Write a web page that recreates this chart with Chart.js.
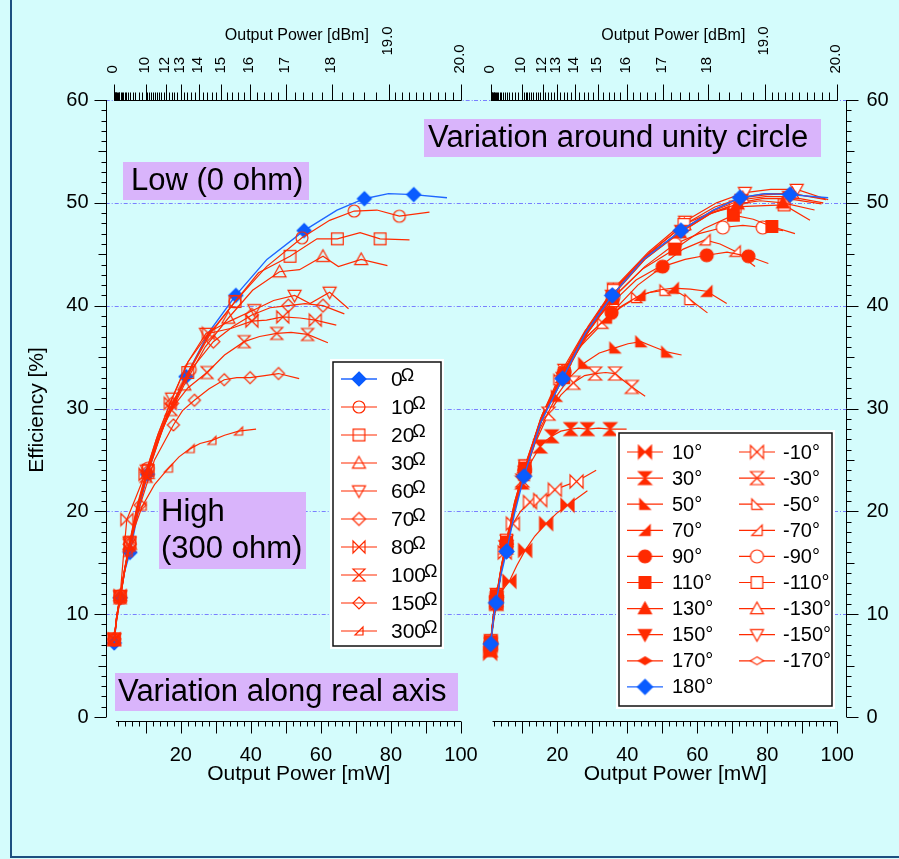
<!DOCTYPE html>
<html>
<head>
<meta charset="utf-8">
<script src="https://cdn.jsdelivr.net/npm/chart.js@4.4.1/dist/chart.umd.min.js"></script>
<style>
  html, body { margin: 0; padding: 0; background: #d4fcfc; overflow: hidden; }
  #frame { position: absolute; left: 10px; top: -10px; width: 899px; height: 868px;
           border: 2px solid #1d4f80; box-sizing: border-box; }
  canvas { position: absolute; left: 0; top: 0; }
</style>
</head>
<body>
<div id="frame"></div>
<canvas id="realAxis" width="899" height="859"></canvas>
<canvas id="unityCircle" width="899" height="859"></canvas>
<script>
// ---- axis ticks ----
const effTicks = [0, 10, 20, 30, 40, 50, 60];
const mwTicks = [20, 40, 60, 80, 100];
const dbmTicks = [0, 10, 12, 13, 14, 15, 16, 17, 18, 19, 20];
const dbmLabels = ['0', '10', '12', '13', '14', '15', '16', '17', '18', '19.0', '20.0'];

// ---- load resistance sweep (left panel) ----
const ohmLabels = ['0', '10', '20', '30', '60', '70', '80', '100', '150', '300'];

const powR0 = [1.0, 1.7, 2.7, 4.0, 5.5, 7.8, 10.5, 15.2, 21.5, 28.0, 35.7, 44.6, 55.2, 64.6, 72.4, 79.3, 86.5, 96.0];
const effR0 = [7.2, 9.6, 11.6, 14.2, 16.0, 19.9, 23.6, 28.6, 33.1, 37.4, 41.0, 44.5, 47.3, 49.3, 50.4, 50.9, 50.8, 50.5];
const powR10 = [1.0, 1.7, 2.7, 4.0, 5.5, 7.9, 10.7, 16.0, 22.7, 28.5, 35.5, 44.5, 54.6, 62.5, 69.5, 76.0, 82.4, 91.0];
const effR10 = [7.5, 9.8, 11.8, 14.4, 16.9, 20.6, 24.2, 29.0, 33.8, 37.3, 40.4, 43.8, 46.6, 48.3, 49.2, 49.3, 48.7, 49.1];
const powR20 = [1.0, 1.7, 2.7, 4.0, 5.5, 7.8, 10.7, 15.5, 22.0, 28.0, 35.5, 42.2, 51.2, 58.9, 64.7, 71.2, 76.9, 85.3];
const effR20 = [7.6, 9.7, 11.7, 14.3, 17.0, 20.4, 24.0, 28.8, 33.5, 37.2, 40.4, 43.2, 44.8, 46.5, 46.5, 47.1, 46.5, 46.4];
const powR30 = [1.0, 1.7, 2.7, 4.0, 5.5, 7.7, 10.6, 15.0, 21.0, 27.0, 33.6, 40.5, 48.2, 53.9, 60.6, 65.0, 71.5, 79.0];
const effR30 = [7.5, 9.7, 11.8, 14.4, 16.8, 20.3, 23.7, 28.2, 32.3, 36.0, 38.8, 41.5, 43.3, 43.5, 44.8, 43.8, 44.5, 43.9];
const powR60 = [1.0, 1.7, 2.7, 4.0, 5.4, 7.5, 10.3, 13.5, 17.5, 22.0, 27.2, 34.0, 41.0, 46.5, 52.5, 56.9, 62.5, 67.9];
const effR60 = [7.6, 9.8, 11.8, 14.5, 17.0, 20.5, 24.0, 27.5, 31.0, 34.5, 37.3, 38.5, 39.6, 40.5, 41.0, 40.2, 41.3, 39.7];
const powR70 = [1.0, 1.7, 2.7, 4.0, 5.4, 7.5, 10.3, 13.5, 17.5, 23.0, 29.3, 35.0, 40.3, 45.5, 50.7, 55.5, 60.6, 66.7];
const effR70 = [7.6, 9.7, 11.6, 14.3, 16.8, 20.3, 23.8, 27.2, 30.5, 33.8, 36.5, 38.0, 39.1, 39.8, 40.0, 40.2, 40.0, 39.2];
const powR80 = [1.0, 1.7, 2.7, 3.6, 4.6, 7.0, 9.8, 13.0, 17.0, 22.0, 27.9, 34.5, 40.3, 44.5, 49.1, 54.0, 58.4, 64.4];
const effR80 = [7.6, 9.8, 11.8, 15.5, 19.2, 21.2, 23.6, 27.0, 30.5, 34.5, 37.3, 37.8, 38.5, 38.6, 38.9, 38.8, 38.6, 38.1];
const powR100 = [1.0, 1.7, 2.7, 4.0, 5.3, 7.4, 10.1, 13.3, 17.2, 22.0, 27.5, 32.5, 38.1, 42.5, 47.4, 51.5, 56.2, 62.0];
const effR100 = [7.5, 9.6, 11.6, 14.2, 16.7, 20.0, 23.4, 26.8, 29.9, 32.0, 33.5, 35.2, 36.5, 37.0, 37.3, 37.4, 37.2, 36.4];
const powR150 = [1.0, 1.7, 2.7, 3.9, 5.2, 6.8, 8.4, 12.5, 17.9, 20.5, 23.9, 28.0, 32.4, 36.0, 39.8, 44.0, 47.9, 53.8];
const effR150 = [7.5, 9.5, 11.5, 14.0, 16.3, 18.6, 20.6, 25.0, 28.4, 29.8, 30.8, 31.9, 32.8, 33.0, 33.0, 33.2, 33.4, 32.9];
const powR300 = [1.0, 1.7, 2.7, 3.8, 5.0, 6.8, 9.0, 12.5, 16.5, 19.5, 22.7, 25.5, 28.9, 32.5, 36.5, 41.5];
const effR300 = [7.5, 9.4, 11.4, 13.8, 16.0, 18.4, 20.5, 22.6, 24.2, 25.3, 26.1, 26.6, 26.9, 27.4, 27.8, 28.0];

// ---- phase sweep around the unity circle (right panel) ----
const phaseLabels = ['10°', '30°', '50°', '70°', '90°', '110°', '130°', '150°', '170°', '180°',
                     '-10°', '-30°', '-50°', '-70°', '-90°', '-110°', '-130°', '-150°', '-170°'];

const powP10 = [0.8, 1.4, 2.5, 4.0, 6.3, 8.4, 10.8, 13.6, 16.8, 19.8, 22.9, 28.6];
const effP10 = [6.2, 8.7, 11.1, 12.2, 13.2, 14.7, 16.2, 17.6, 18.8, 19.8, 20.6, 22.0];
const powP30 = [1.0, 1.6, 2.6, 3.9, 5.4, 7.5, 9.9, 12.5, 15.1, 16.8, 18.4, 21.0, 23.8, 26.0, 28.6, 31.8, 35.1, 39.8];
const effP30 = [6.5, 8.8, 11.0, 14.0, 16.5, 20.0, 22.8, 24.8, 26.3, 26.9, 27.3, 27.8, 28.0, 28.1, 28.0, 28.1, 28.0, 28.0];
const powP50 = [1.0, 1.7, 2.7, 4.0, 5.5, 7.8, 10.5, 15.0, 19.8, 23.5, 27.6, 32.0, 36.5, 40.2, 43.9, 47.5, 51.3, 55.5];
const effP50 = [7.0, 9.4, 11.5, 14.2, 16.6, 20.2, 23.5, 28.0, 31.2, 33.0, 34.4, 35.4, 35.9, 36.3, 36.5, 36.0, 35.5, 35.2];
const powP70 = [1.0, 1.7, 2.7, 4.0, 5.5, 7.8, 10.6, 15.0, 21.0, 27.0, 34.0, 38.5, 43.6, 48.5, 53.1, 58.0, 62.7, 68.4];
const effP70 = [7.0, 9.4, 11.5, 14.2, 16.7, 20.3, 23.7, 28.5, 33.0, 36.5, 38.8, 40.0, 41.0, 41.5, 41.7, 41.6, 41.4, 40.2];
const powP90 = [1.0, 1.7, 2.7, 4.0, 5.5, 7.8, 10.7, 16.0, 22.0, 28.5, 35.5, 43.0, 50.1, 56.5, 62.7, 68.5, 74.6, 80.3];
const effP90 = [7.1, 9.5, 11.6, 14.3, 16.8, 20.5, 24.0, 29.3, 33.5, 37.0, 39.3, 42.0, 43.8, 44.5, 44.9, 45.2, 44.8, 44.1];
const powP110 = [1.0, 1.7, 2.7, 4.0, 5.5, 7.8, 10.7, 15.8, 21.8, 28.5, 35.7, 44.5, 53.6, 62.0, 70.3, 76.0, 81.3, 87.9];
const effP110 = [7.3, 9.7, 11.8, 14.5, 17.0, 20.7, 24.2, 29.2, 33.0, 37.3, 40.7, 43.6, 45.5, 47.5, 48.8, 48.4, 47.7, 47.0];
const powP130 = [1.0, 1.7, 2.7, 4.0, 5.5, 7.8, 10.7, 15.6, 21.6, 28.3, 35.6, 45.0, 55.0, 63.5, 71.5, 78.0, 84.5, 93.5];
const effP130 = [7.2, 9.6, 11.7, 14.4, 16.8, 20.5, 24.0, 28.9, 33.0, 37.2, 40.9, 44.5, 47.1, 48.9, 49.9, 50.2, 50.0, 49.3];
const powP150 = [1.0, 1.7, 2.7, 4.0, 5.5, 7.8, 10.6, 15.4, 21.5, 28.2, 35.6, 45.0, 55.4, 64.5, 72.6, 79.5, 86.2, 96.0];
const effP150 = [7.2, 9.6, 11.7, 14.3, 16.7, 20.3, 23.9, 28.8, 33.0, 37.3, 41.0, 44.5, 47.3, 49.2, 50.3, 50.6, 50.6, 50.0];
const powP170 = [1.0, 1.7, 2.7, 4.0, 5.5, 7.8, 10.5, 15.3, 21.5, 28.0, 35.7, 44.8, 55.3, 64.6, 72.5, 79.4, 86.6, 96.5];
const effP170 = [7.2, 9.6, 11.6, 14.2, 16.6, 20.1, 23.8, 28.8, 33.0, 37.4, 41.0, 44.5, 47.3, 49.3, 50.5, 50.9, 50.9, 50.4];
const powP180 = [1.0, 1.7, 2.5, 3.9, 5.5, 7.8, 10.5, 15.2, 21.5, 28.0, 35.7, 44.6, 55.3, 64.6, 72.2, 79.3, 86.5, 97.4];
const effP180 = [7.1, 9.4, 11.1, 13.8, 16.1, 19.8, 23.4, 28.6, 32.9, 37.3, 41.0, 44.5, 47.3, 49.3, 50.5, 50.9, 50.8, 50.5];

const powM10 = [1.0, 1.6, 2.6, 3.8, 5.0, 6.0, 7.3, 9.5, 12.2, 13.6, 15.1, 17.0, 19.3, 22.3, 25.5, 31.1];
const effM10 = [7.0, 9.0, 11.2, 13.8, 16.0, 17.5, 18.8, 20.0, 20.9, 21.0, 21.1, 21.5, 22.1, 22.5, 22.9, 24.0];
const powM30 = [1.0, 1.6, 2.6, 3.8, 5.2, 7.5, 10.0, 13.5, 17.5, 21.0, 24.6, 27.8, 30.8, 33.8, 36.5, 39.0, 41.3, 45.1];
const effM30 = [7.2, 9.4, 11.4, 14.0, 16.5, 20.0, 23.0, 26.5, 29.5, 31.3, 32.5, 33.2, 33.4, 33.5, 33.4, 32.7, 32.1, 31.2];
const powM50 = [1.0, 1.7, 2.7, 4.0, 5.5, 7.8, 10.6, 15.0, 20.5, 26.5, 33.0, 38.0, 42.7, 46.5, 50.8, 55.0, 57.9, 62.9];
const effM50 = [7.0, 9.4, 11.5, 14.2, 16.7, 20.3, 23.7, 28.5, 32.8, 36.0, 38.3, 39.8, 40.8, 41.3, 41.5, 41.2, 40.6, 39.3];
const powM70 = [1.0, 1.7, 2.7, 4.0, 5.5, 7.8, 10.6, 15.2, 21.2, 28.0, 36.0, 42.5, 49.3, 56.0, 62.2, 66.5, 70.8, 76.5];
const effM70 = [7.0, 9.4, 11.5, 14.3, 16.8, 20.5, 24.0, 29.0, 33.6, 37.6, 40.4, 42.5, 43.8, 45.5, 46.4, 46.0, 45.3, 43.8];
const powM90 = [1.0, 1.7, 2.7, 4.0, 5.5, 7.8, 10.7, 15.8, 22.0, 29.0, 36.0, 45.0, 53.6, 60.5, 67.3, 73.0, 78.7, 84.5];
const effM90 = [7.2, 9.6, 11.7, 14.4, 16.9, 20.6, 24.1, 29.3, 33.6, 37.5, 40.8, 43.8, 46.0, 47.0, 47.6, 47.8, 47.6, 47.3];
const powM110 = [1.0, 1.7, 2.7, 4.0, 5.5, 7.8, 10.8, 16.0, 22.0, 28.8, 36.0, 46.0, 56.2, 63.5, 70.8, 77.5, 84.8, 92.2];
const effM110 = [7.4, 9.8, 11.9, 14.6, 17.2, 20.9, 24.4, 29.5, 33.4, 37.6, 41.5, 45.0, 47.9, 49.0, 49.6, 49.7, 49.8, 48.3];
const powM130 = [1.0, 1.7, 2.7, 4.0, 5.5, 7.8, 10.7, 15.6, 21.8, 28.6, 36.0, 45.8, 56.3, 65.0, 73.0, 80.0, 87.2, 96.8];
const effM130 = [7.4, 9.8, 11.9, 14.6, 17.0, 20.7, 24.3, 29.3, 33.5, 37.8, 41.5, 45.0, 47.9, 49.6, 50.5, 50.8, 50.9, 50.3];
const powM150 = [1.0, 1.7, 2.7, 4.0, 5.5, 7.8, 10.8, 15.8, 22.0, 28.8, 36.2, 46.0, 56.5, 65.5, 73.6, 81.0, 88.4, 97.4];
const effM150 = [7.5, 9.9, 12.0, 14.7, 17.2, 20.9, 24.5, 29.5, 33.8, 38.0, 41.7, 45.2, 48.2, 50.0, 51.0, 51.3, 51.3, 50.3];
const powM170 = [1.0, 1.7, 2.7, 4.0, 5.5, 7.8, 10.6, 15.4, 21.6, 28.3, 35.8, 45.2, 55.5, 64.0, 71.8, 78.5, 85.8, 95.5];
const effM170 = [7.3, 9.7, 11.8, 14.4, 16.8, 20.4, 24.0, 29.0, 33.2, 37.5, 41.2, 44.8, 47.2, 49.0, 50.0, 50.4, 50.4, 49.9];

// ---- drawing helpers ----
const FONT = '"Liberation Sans", Arial, Helvetica, sans-serif';
const RED = '#ff2a00';
const BLUE = '#0a5cff';
const BLUE_LINE = '#1f66ff';
const NOTE_BG = '#d9b4fb';

Chart.defaults.font.family = FONT;

// symbol bitmaps used as pointStyle
function marker(shape, r, stroke, fill) {
  const s = Math.ceil(2 * r + 4);
  const c = document.createElement('canvas');
  c.width = s; c.height = s;
  const g = c.getContext('2d');
  g.translate(s / 2, s / 2);
  g.beginPath();
  switch (shape) {
    case 'circle': g.arc(0, 0, r, 0, Math.PI * 2); break;
    case 'square': g.rect(-r * 0.9, -r * 0.9, r * 1.8, r * 1.8); break;
    case 'diamond': g.moveTo(0, -r); g.lineTo(r, 0); g.lineTo(0, r); g.lineTo(-r, 0); break;
    case 'flatDiamond': g.moveTo(0, -r * 0.6); g.lineTo(r, 0); g.lineTo(0, r * 0.6); g.lineTo(-r, 0); break;
    case 'triUp': g.moveTo(0, -r); g.lineTo(r, r * 0.8); g.lineTo(-r, r * 0.8); break;
    case 'triDown': g.moveTo(0, r); g.lineTo(r, -r * 0.8); g.lineTo(-r, -r * 0.8); break;
    case 'bowtie': g.moveTo(-r, -r); g.lineTo(r, r); g.lineTo(r, -r); g.lineTo(-r, r); break;
    case 'hourglass': g.moveTo(-r, -r); g.lineTo(r, -r); g.lineTo(-r, r); g.lineTo(r, r); break;
    case 'cornerBL': g.moveTo(-r * 0.8, -r * 0.8); g.lineTo(-r * 0.8, r * 0.8); g.lineTo(r * 0.8, r * 0.8); break;
    case 'cornerBR': g.moveTo(r * 0.8, -r * 0.8); g.lineTo(r * 0.8, r * 0.8); g.lineTo(-r * 0.8, r * 0.8); break;
  }
  g.closePath();
  if (fill) { g.fillStyle = fill; g.fill(); }
  g.lineWidth = 1.2;
  g.strokeStyle = stroke;
  g.stroke();
  return c;
}

const open = (shape, r) => marker(shape, r, RED, null);
const hollow = (shape, r) => marker(shape, r, RED, '#ffffff');
const solid = (shape, r) => marker(shape, r, RED, RED);

const leftSeries = [
  { pow: powR0, eff: effR0, color: BLUE_LINE, sym: marker('diamond', 7, BLUE, BLUE), width: 1.4 },
  { pow: powR10, eff: effR10, color: RED, sym: open('circle', 6) },
  { pow: powR20, eff: effR20, color: RED, sym: open('square', 6.5) },
  { pow: powR30, eff: effR30, color: RED, sym: open('triUp', 6.5) },
  { pow: powR60, eff: effR60, color: RED, sym: open('triDown', 6.5) },
  { pow: powR70, eff: effR70, color: RED, sym: open('diamond', 6.5) },
  { pow: powR80, eff: effR80, color: RED, sym: open('bowtie', 6) },
  { pow: powR100, eff: effR100, color: RED, sym: open('hourglass', 6) },
  { pow: powR150, eff: effR150, color: RED, sym: open('diamond', 6) },
  { pow: powR300, eff: effR300, color: RED, sym: open('cornerBR', 5) }
];

const rightSeries = [
  { pow: powP10, eff: effP10, color: RED, sym: solid('bowtie', 6.5) },
  { pow: powP30, eff: effP30, color: RED, sym: solid('hourglass', 6.5) },
  { pow: powP50, eff: effP50, color: RED, sym: solid('cornerBL', 6.5) },
  { pow: powP70, eff: effP70, color: RED, sym: solid('cornerBR', 6.5) },
  { pow: powP90, eff: effP90, color: RED, sym: solid('circle', 6.5) },
  { pow: powP110, eff: effP110, color: RED, sym: solid('square', 6.5) },
  { pow: powP130, eff: effP130, color: RED, sym: solid('triUp', 6.5) },
  { pow: powP150, eff: effP150, color: RED, sym: solid('triDown', 6.5) },
  { pow: powP170, eff: effP170, color: RED, sym: solid('flatDiamond', 6.5) },
  { pow: powP180, eff: effP180, color: BLUE_LINE, sym: marker('diamond', 7.5, BLUE, BLUE), width: 1.4 },
  { pow: powM10, eff: effM10, color: RED, sym: hollow('bowtie', 6.5) },
  { pow: powM30, eff: effM30, color: RED, sym: hollow('hourglass', 6.5) },
  { pow: powM50, eff: effM50, color: RED, sym: hollow('cornerBL', 6.5) },
  { pow: powM70, eff: effM70, color: RED, sym: hollow('cornerBR', 6.5) },
  { pow: powM90, eff: effM90, color: RED, sym: hollow('circle', 6.5) },
  { pow: powM110, eff: effM110, color: RED, sym: hollow('square', 6.5) },
  { pow: powM130, eff: effM130, color: RED, sym: hollow('triUp', 6.5) },
  { pow: powM150, eff: effM150, color: RED, sym: hollow('triDown', 6.5) },
  { pow: powM170, eff: effM170, color: RED, sym: hollow('flatDiamond', 6.5) }
];

// every other measured point carries a symbol
function toDataset(s, order) {
  return {
    data: s.pow.map((p, i) => ({ x: p, y: s.eff[i] })),
    borderColor: s.color,
    borderWidth: s.width || 1.2,
    pointStyle: s.sym,
    pointRadius: ctx => (ctx.dataIndex % 2 === 0 ? 6 : 0),
    pointHoverRadius: ctx => (ctx.dataIndex % 2 === 0 ? 6 : 0),
    fill: false,
    tension: 0,
    clip: false,
    order: order
  };
}

const dbmToMw = d => Math.pow(10, d / 10);

function minorDbm() {
  const out = [];
  for (let d = 0; d < 10; d += 0.5) out.push(d);
  for (let d = 10; d < 19 - 1e-6; d += 0.2) out.push(+d.toFixed(1));
  for (let d = 19; d <= 20 + 1e-6; d += 0.1) out.push(+d.toFixed(1));
  return out;
}

function crisp(v) { return Math.round(v) + 0.5; }

// grid, frame axes, tick labels and titles
function axesPlugin(side) {
  return {
    id: 'axes_' + side,
    beforeDatasetsDraw(chart) {
      const { ctx, chartArea: a, scales: { y } } = chart;
      const gx0 = side === 'left' ? a.left - 5 : 474;
      const gx1 = side === 'left' ? 474 : a.right + 9;
      ctx.save();
      ctx.strokeStyle = 'rgba(105,105,255,0.85)';
      ctx.lineWidth = 1;
      ctx.setLineDash([4, 2, 1, 2]);
      effTicks.filter(v => v > 0).forEach(v => {
        const py = crisp(y.getPixelForValue(v));
        ctx.beginPath(); ctx.moveTo(gx0, py); ctx.lineTo(gx1, py); ctx.stroke();
      });
      ctx.restore();
    },
    afterDatasetsDraw(chart) {
      const { ctx, chartArea: a, scales: { x, y } } = chart;
      ctx.save();
      ctx.strokeStyle = '#000';
      ctx.fillStyle = '#000';
      ctx.lineWidth = 1;

      // efficiency axis
      const yx = side === 'left' ? crisp(a.left - 5) : crisp(a.right + 9);
      const dir = side === 'left' ? -1 : 1;
      ctx.beginPath();
      ctx.moveTo(yx, y.getPixelForValue(0)); ctx.lineTo(yx, y.getPixelForValue(60));
      for (let v = 0; v <= 60; v++) {
        const py = crisp(y.getPixelForValue(v));
        const len = v % 10 === 0 ? 12 : (v % 5 === 0 ? 8 : 5);
        ctx.moveTo(yx, py); ctx.lineTo(yx + dir * len, py);
      }
      ctx.stroke();
      ctx.font = '20px ' + FONT;
      ctx.textBaseline = 'middle';
      ctx.textAlign = side === 'left' ? 'right' : 'left';
      effTicks.forEach(v => {
        ctx.fillText(String(v), side === 'left' ? yx - 18 : yx + 20, y.getPixelForValue(v));
      });

      // output power [mW] at the bottom
      const by = crisp(a.bottom + 4);
      ctx.beginPath();
      ctx.moveTo(x.getPixelForValue(1.5), by); ctx.lineTo(x.getPixelForValue(100), by);
      for (let v = 2; v <= 100; v += 2) {
        const px = crisp(x.getPixelForValue(v));
        ctx.moveTo(px, by); ctx.lineTo(px, by + (v % 10 === 0 ? 12 : 5));
      }
      ctx.stroke();
      ctx.textAlign = 'center';
      mwTicks.forEach(v => ctx.fillText(String(v), x.getPixelForValue(v), by + 34));
      const mid = (a.left + a.right) / 2;
      ctx.font = '21px ' + FONT;
      ctx.fillText('Output Power [mW]', mid + 13, by + 53);

      // output power [dBm] on top
      const ty = crisp(a.top);
      ctx.beginPath();
      ctx.moveTo(x.getPixelForValue(1), ty); ctx.lineTo(x.getPixelForValue(100), ty);
      minorDbm().forEach(d => {
        const px = crisp(x.getPixelForValue(dbmToMw(d)));
        ctx.moveTo(px, ty); ctx.lineTo(px, ty - 8);
      });
      dbmTicks.forEach(d => {
        const px = crisp(x.getPixelForValue(dbmToMw(d)));
        ctx.moveTo(px, ty); ctx.lineTo(px, ty - 16);
      });
      ctx.stroke();
      ctx.font = '15px ' + FONT;
      ctx.textAlign = 'left';
      dbmTicks.forEach((d, i) => {
        const label = dbmLabels[i];
        const lift = label === '19.0' ? 18 : 0;
        ctx.save();
        ctx.translate(x.getPixelForValue(dbmToMw(d)) - 1, ty - 27 - lift);
        ctx.rotate(-Math.PI / 2);
        ctx.fillText(label, 0, 0);
        ctx.restore();
      });
      ctx.font = '16px ' + FONT;
      ctx.textAlign = 'center';
      ctx.fillText('Output Power [dBm]', mid + 11, 36);

      if (side === 'left') {
        ctx.save();
        ctx.font = '21px ' + FONT;
        ctx.translate(37, 410);
        ctx.rotate(-Math.PI / 2);
        ctx.fillText('Efficiency [%]', 0, 0);
        ctx.restore();
      }
      ctx.restore();
    }
  };
}

function noteBox(ctx, lines, bx, by, bw, bh, tx, ty, lineGap) {
  ctx.fillStyle = NOTE_BG;
  ctx.fillRect(bx, by, bw, bh);
  ctx.fillStyle = '#000';
  ctx.font = '31px ' + FONT;
  ctx.textAlign = 'left';
  ctx.textBaseline = 'middle';
  lines.forEach((t, i) => ctx.fillText(t, tx, ty + i * lineGap));
}

function legendFrame(ctx, x, y, w, h) {
  ctx.fillStyle = '#ffffff';
  ctx.fillRect(x - 3, y - 3, w + 6, h + 6);
  ctx.strokeStyle = '#111';
  ctx.lineWidth = 1.5;
  ctx.strokeRect(x, y, w, h);
}

function legendRow(ctx, s, x0, x1, y) {
  ctx.strokeStyle = s.color;
  ctx.lineWidth = s.width || 1.2;
  ctx.beginPath(); ctx.moveTo(x0, y); ctx.lineTo(x1, y); ctx.stroke();
  const m = s.sym;
  ctx.drawImage(m, (x0 + x1) / 2 - m.width / 2, y - m.height / 2);
}

const realAxisNotes = {
  id: 'realAxisNotes',
  afterDatasetsDraw(chart) {
    const ctx = chart.ctx;
    ctx.save();
    noteBox(ctx, ['Low (0 ohm)'], 123, 162, 186, 38, 131, 181, 0);
    noteBox(ctx, ['High', '(300 ohm)'], 159, 492, 147, 77, 161, 512, 37);
    noteBox(ctx, ['Variation along real axis'], 115, 673, 343, 38, 118, 692, 0);

    legendFrame(ctx, 333, 362, 108, 284);
    leftSeries.forEach((s, i) => {
      const ry = 379 + i * 28;
      legendRow(ctx, s, 341, 377, ry);
      ctx.fillStyle = '#000';
      ctx.textAlign = 'left';
      ctx.textBaseline = 'middle';
      ctx.font = '21px ' + FONT;
      const t = ohmLabels[i];
      ctx.fillText(t, 391, ry + 1);
      const w = ctx.measureText(t).width;
      ctx.font = '18px ' + FONT;
      ctx.fillText('Ω', 391 + w - 2, ry - 3);
    });
    ctx.restore();
  }
};

const unityNotes = {
  id: 'unityNotes',
  afterDatasetsDraw(chart) {
    const ctx = chart.ctx;
    ctx.save();
    noteBox(ctx, ['Variation around unity circle'], 424, 119, 397, 38, 428, 138, 0);

    legendFrame(ctx, 619, 433, 213, 273);
    rightSeries.forEach((s, i) => {
      const col = i < 10 ? 0 : 1;
      const row = col === 0 ? i : i - 10;
      const ry = 452 + row * 26.1;
      const lx = col === 0 ? 627 : 739;
      legendRow(ctx, s, lx, lx + 36, ry);
      ctx.fillStyle = '#000';
      ctx.textAlign = 'left';
      ctx.textBaseline = 'middle';
      ctx.font = '20px ' + FONT;
      ctx.fillText(phaseLabels[i], col === 0 ? 672 : 783, ry + 1);
    });
    ctx.restore();
  }
};

function makeChart(id, datasets, padding, side, notes) {
  return new Chart(document.getElementById(id), {
    type: 'line',
    data: { datasets },
    options: {
      responsive: false,
      animation: false,
      events: [],
      layout: { padding },
      scales: {
        x: { type: 'linear', min: 0, max: 100, display: false },
        y: { type: 'linear', min: 0, max: 60, display: false }
      },
      plugins: { legend: { display: false }, tooltip: { enabled: false } }
    },
    plugins: [axesPlugin(side), notes]
  });
}

// left: real-axis sweep, blue 0 ohm curve underneath the red ones
makeChart('realAxis',
  leftSeries.map((s, i) => toDataset(s, i === 0 ? 50 : i)),
  { left: 110.7, right: 438, top: 100, bottom: 142 }, 'left', realAxisNotes);

// right: unity-circle sweep, blue 180 deg curve on top
makeChart('unityCircle',
  rightSeries.map((s, i) => toDataset(s, s.color === BLUE_LINE ? 0 : i + 1)),
  { left: 487.3, right: 61.7, top: 100, bottom: 142 }, 'right', unityNotes);
</script>
</body>
</html>
